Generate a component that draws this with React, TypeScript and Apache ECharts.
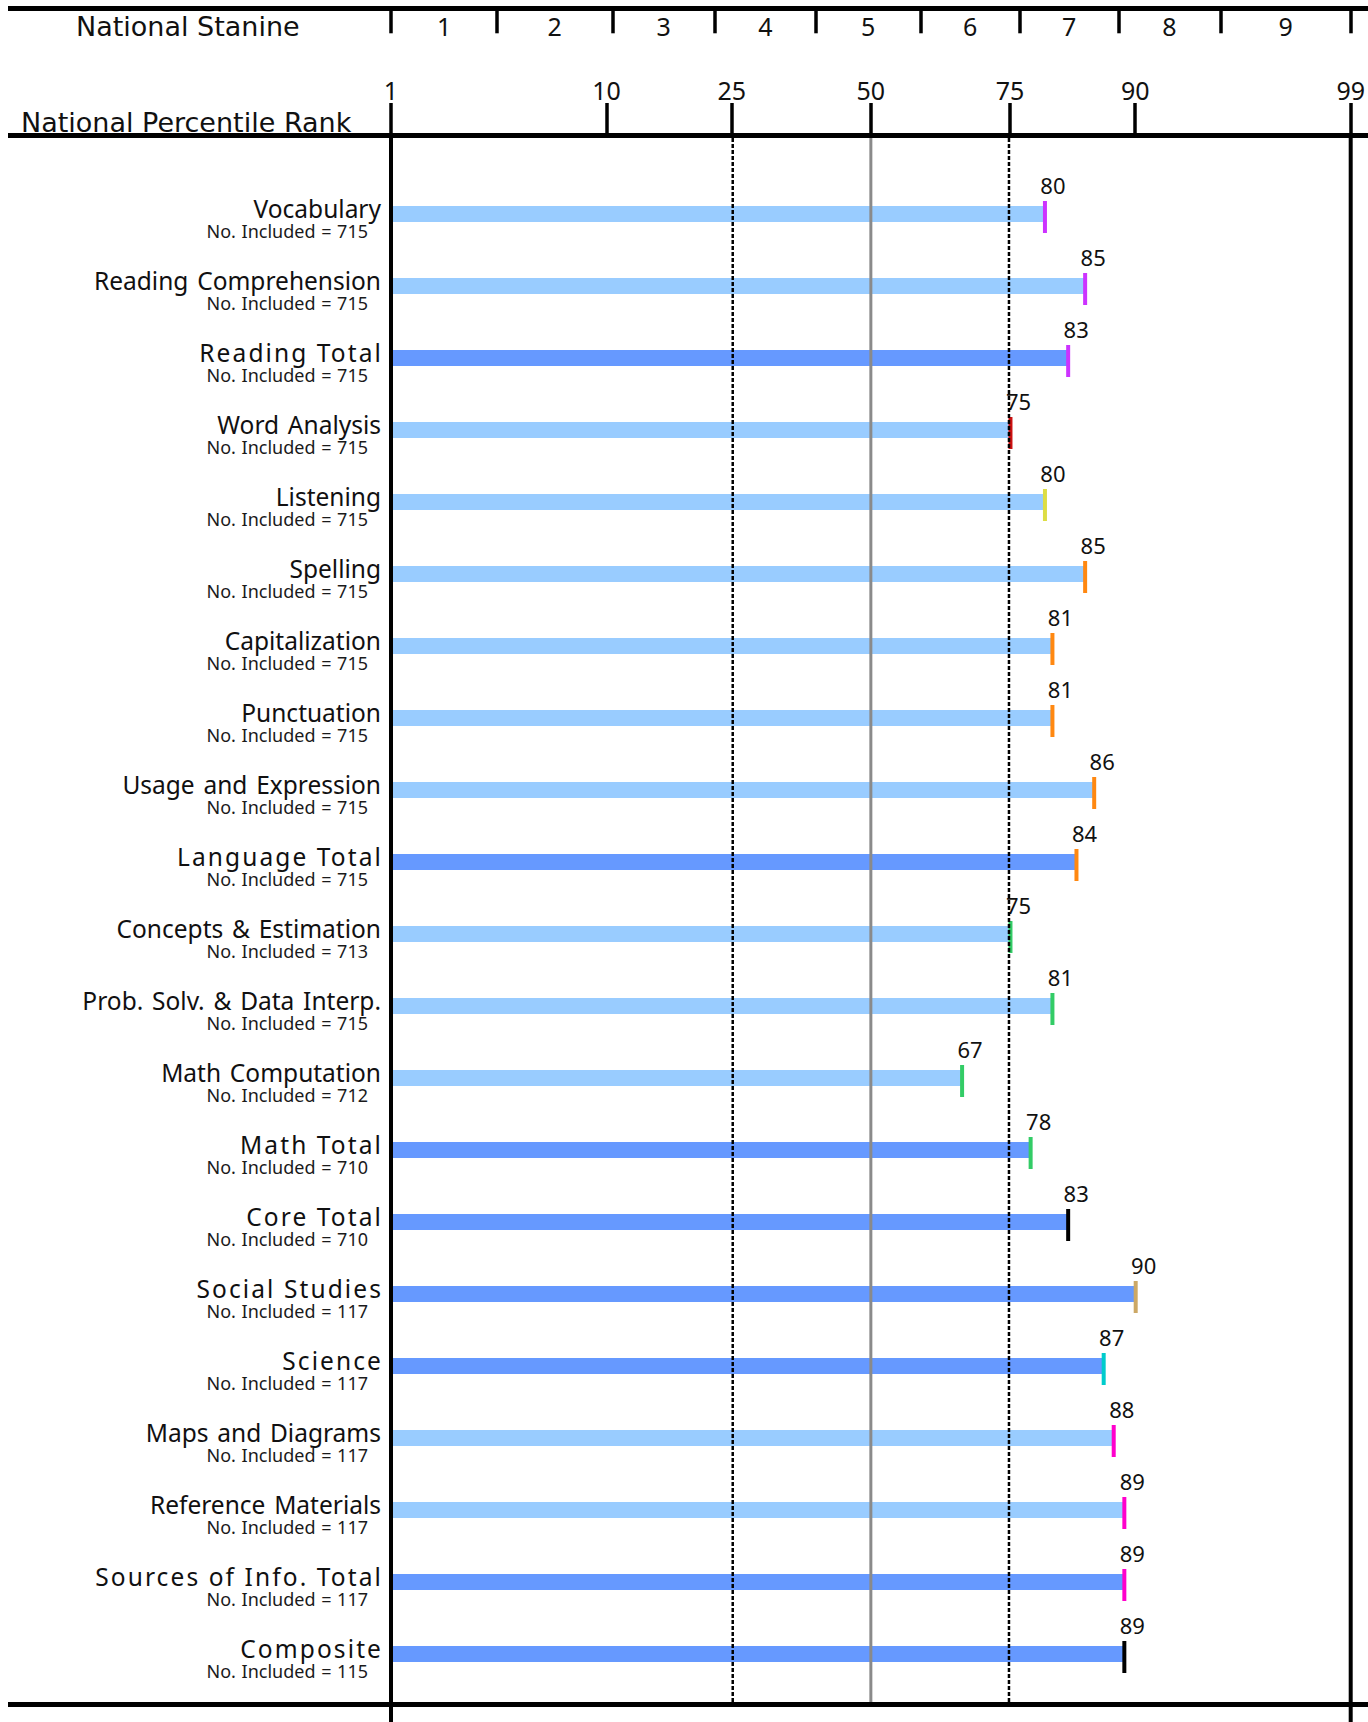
import React, { useEffect, useRef } from "react";
import * as echarts from "echarts";

const categories = [
  "Vocabulary",
  "Reading Comprehension",
  "Reading Total",
  "Word Analysis",
  "Listening",
  "Spelling",
  "Capitalization",
  "Punctuation",
  "Usage and Expression",
  "Language Total",
  "Concepts & Estimation",
  "Prob. Solv. & Data Interp.",
  "Math Computation",
  "Math Total",
  "Core Total",
  "Social Studies",
  "Science",
  "Maps and Diagrams",
  "Reference Materials",
  "Sources of Info. Total",
  "Composite",
];
const counts = [715, 715, 715, 715, 715, 715, 715, 715, 715, 715, 713, 715, 712, 710, 710, 117, 117, 117, 117, 117, 115];
const percentiles = [80, 85, 83, 75, 80, 85, 81, 81, 86, 84, 75, 81, 67, 78, 83, 90, 87, 88, 89, 89, 89];
const isTotal = [false, false, true, false, false, false, false, false, false, true, false, false, false, true, true, true, true, false, false, true, true];
const markerColors = [
  "#CC33FF", "#CC33FF", "#CC33FF", "#CC1111", "#DDDD44", "#FF8811", "#FF8811", "#FF8811", "#FF8811", "#FF8811",
  "#33CC66", "#33CC66", "#33CC66", "#33CC66", "#000000", "#CCA866", "#00CCCC", "#FF00CC", "#FF00CC", "#FF00CC", "#000000",
];
const percentileTicks = [1, 10, 25, 50, 75, 90, 99];
const stanineBounds = [1, 3.5, 10.5, 22.5, 39.5, 59.5, 76.5, 88.5, 95.5, 99];
const stanineLabels = ["1", "2", "3", "4", "5", "6", "7", "8", "9"];

const LIGHT = "#99CCFF";
const DARK = "#6699FF";
const FONT = "Noto Sans";
// text colours used as CSS hooks for spacing tweaks
const NAME_COLOR = "#111011";
const TOTAL_NAME_COLOR = "#101011";
const COUNT_COLOR = "#1a1a1b";
const CSS = `
text[fill="${TOTAL_NAME_COLOR}"] { letter-spacing: 2.1px; }
text[fill="${NAME_COLOR}"] { word-spacing: 2.4px; }
text[fill="${COUNT_COLOR}"] { word-spacing: 1px; }
`;

// inverse standard normal CDF (normal probability scale)
function probit(p: number): number {
  const a = [-3.969683028665376e1, 2.209460984245205e2, -2.759285104469687e2, 1.38357751867269e2, -3.066479806614716e1, 2.506628277459239];
  const b = [-5.447609879822406e1, 1.615858368580409e2, -1.556989798598866e2, 6.680131188771972e1, -1.328068155288572e1];
  const c = [-7.784894002430293e-3, -3.223964580411365e-1, -2.400758277161838, -2.549732539343734, 4.374664141464968, 2.938163982698783];
  const d = [7.784695709041462e-3, 3.224671290700398e-1, 2.445134137142996, 3.754408661907416];
  const pl = 0.02425;
  const ph = 1 - pl;
  let q: number, r: number;
  if (p < pl) {
    q = Math.sqrt(-2 * Math.log(p));
    return (((((c[0] * q + c[1]) * q + c[2]) * q + c[3]) * q + c[4]) * q + c[5]) / ((((d[0] * q + d[1]) * q + d[2]) * q + d[3]) * q + 1);
  }
  if (p <= ph) {
    q = p - 0.5;
    r = q * q;
    return ((((((a[0] * r + a[1]) * r + a[2]) * r + a[3]) * r + a[4]) * r + a[5]) * q) / (((((b[0] * r + b[1]) * r + b[2]) * r + b[3]) * r + b[4]) * r + 1);
  }
  q = Math.sqrt(-2 * Math.log(1 - p));
  return -(((((c[0] * q + c[1]) * q + c[2]) * q + c[3]) * q + c[4]) * q + c[5]) / ((((d[0] * q + d[1]) * q + d[2]) * q + d[3]) * q + 1);
}
const Z0 = probit(0.01);
const zs = (pct: number) => probit(pct / 100) - Z0;
const AXIS_MAX = zs(99);

const pctTickVals = percentileTicks.map(zs);
const stanTickVals = stanineBounds.map(zs);
const stanLabelVals = stanTickVals.slice(0, -1).map((v, i) => (v + stanTickVals[i + 1]) / 2);

function nearestIndex(list: number[], v: number) {
  let best = 0;
  for (let i = 1; i < list.length; i++) if (Math.abs(list[i] - v) < Math.abs(list[best] - v)) best = i;
  return best;
}

export default function App() {
  const ref = useRef<HTMLDivElement>(null);
  useEffect(() => {
    const chart = echarts.init(ref.current!, undefined, { renderer: "svg" });
    const option: any = {
      animation: false,
      grid: { left: 391, right: 16, top: 178, height: 1512 },
      xAxis: [
        {
          type: "value",
          min: 0,
          max: AXIS_MAX,
          position: "top",
          offset: 42.5,
          axisLine: { show: false },
          splitLine: { show: false },
          axisTick: { show: true, length: 32.5, customValues: pctTickVals, lineStyle: { color: "#000", width: 3.5 } },
          axisLabel: {
            customValues: pctTickVals,
            margin: 45.5,
            verticalAlign: "middle",
            fontSize: 25,
            fontFamily: FONT,
            color: "#111",
            formatter: (v: number) => String(percentileTicks[nearestIndex(pctTickVals, v)]),
          },
        },
        {
          type: "value",
          min: 0,
          max: AXIS_MAX,
          position: "top",
          offset: 169.7,
          axisLine: { show: false },
          splitLine: { show: false },
          axisTick: { show: true, inside: true, length: 25, customValues: stanTickVals, lineStyle: { color: "#000", width: 3.5 } },
          axisLabel: {
            inside: true,
            customValues: stanLabelVals,
            margin: 17.5,
            verticalAlign: "middle",
            fontSize: 25,
            fontFamily: FONT,
            color: "#111",
            formatter: (v: number) => stanineLabels[nearestIndex(stanLabelVals, v)],
          },
        },
      ],
      yAxis: {
        type: "category",
        inverse: true,
        data: categories,
        axisLine: { show: false },
        axisTick: { show: false },
        splitLine: { show: false },
        axisLabel: {
          interval: 0,
          margin: 8,
          formatter: (v: string, i: number) => `{${isTotal[i] ? "t" : "n"}|${v}}\n{c|No. Included = ${counts[i]}}`,
          rich: {
            n: { fontSize: 24.5, fontFamily: FONT, color: NAME_COLOR, lineHeight: 33, padding: [0, 2, 0, 0] },
            t: { fontSize: 24.5, fontFamily: FONT, color: TOTAL_NAME_COLOR, lineHeight: 33 },
            c: { fontSize: 18, fontFamily: FONT, color: COUNT_COLOR, lineHeight: 12, padding: [0, 15, 0, 0] },
          },
        },
      },
      series: [
        {
          type: "bar",
          xAxisIndex: 0,
          barWidth: 16,
          data: percentiles.map((p, i) => ({ value: zs(p), itemStyle: { color: isTotal[i] ? DARK : LIGHT } })),
          z: 2,
        },
        {
          type: "custom",
          xAxisIndex: 0,
          clip: false,
          z: 3,
          data: percentiles.map((p, i) => [zs(p), i, p, i]),
          encode: { x: 0, y: 1 },
          renderItem: (params: any, api: any) => {
            const pt = api.coord([api.value(0), api.value(1)]);
            const idx = api.value(3);
            return {
              type: "group",
              children: [
                { type: "rect", shape: { x: pt[0] - 1.5, y: pt[1] - 13, width: 4, height: 32 }, style: { fill: markerColors[idx] } },
                {
                  type: "text",
                  x: pt[0] + 8.5,
                  y: pt[1] - 29,
                  style: { text: String(api.value(2)), fontSize: 22, fontFamily: FONT, fill: "#111", align: "center", verticalAlign: "middle" },
                },
              ],
            };
          },
        },
      ],
    };
    chart.setOption(option);

    const px = (p: number) => chart.convertToPixel({ xAxisIndex: 0 }, zs(p)) as number;
    const x1 = px(1), x25 = px(25), x50 = px(50), x75 = px(75), x99 = px(99);
    chart.setOption({
      graphic: {
        elements: [
          { type: "rect", z: 100, shape: { x: 8, y: 6, width: 1360, height: 5 }, style: { fill: "#000" } },
          { type: "rect", z: 100, shape: { x: 8, y: 133, width: 1360, height: 5 }, style: { fill: "#000" } },
          { type: "rect", z: 100, shape: { x: 8, y: 1702, width: 1360, height: 5 }, style: { fill: "#000" } },
          { type: "line", z: 100, shape: { x1: x1, y1: 133, x2: x1, y2: 1722 }, style: { stroke: "#000", lineWidth: 4 } },
          { type: "line", z: 100, shape: { x1: x99, y1: 133, x2: x99, y2: 1722 }, style: { stroke: "#000", lineWidth: 4 } },
          { type: "line", z: 100, shape: { x1: x25 + 1, y1: 138, x2: x25 + 1, y2: 1702 }, style: { stroke: "#000", lineWidth: 2.5, lineDash: [4, 2] } },
          { type: "line", z: 100, shape: { x1: x75 - 1, y1: 138, x2: x75 - 1, y2: 1702 }, style: { stroke: "#000", lineWidth: 2.5, lineDash: [4, 2] } },
          { type: "line", z: 100, shape: { x1: x50, y1: 138, x2: x50, y2: 1702 }, style: { stroke: "#8a8a8a", lineWidth: 3 } },
          {
            type: "text",
            z: 100,
            x: 76,
            y: 26,
            style: { text: "National Stanine", fontSize: 27, fontFamily: "DejaVu Sans", fill: "#111", verticalAlign: "middle" },
          },
          {
            type: "text",
            z: 100,
            x: 21,
            y: 122,
            style: { text: "National Percentile Rank", fontSize: 27, fontFamily: "DejaVu Sans", fill: "#111", verticalAlign: "middle" },
          },
        ],
      },
    });
    return () => chart.dispose();
  }, []);
  return (
    <>
      <style>{CSS}</style>
      <div ref={ref} style={{ position: "absolute", left: 0, top: 0, width: 1368, height: 1722 }} />
    </>
  );
}
